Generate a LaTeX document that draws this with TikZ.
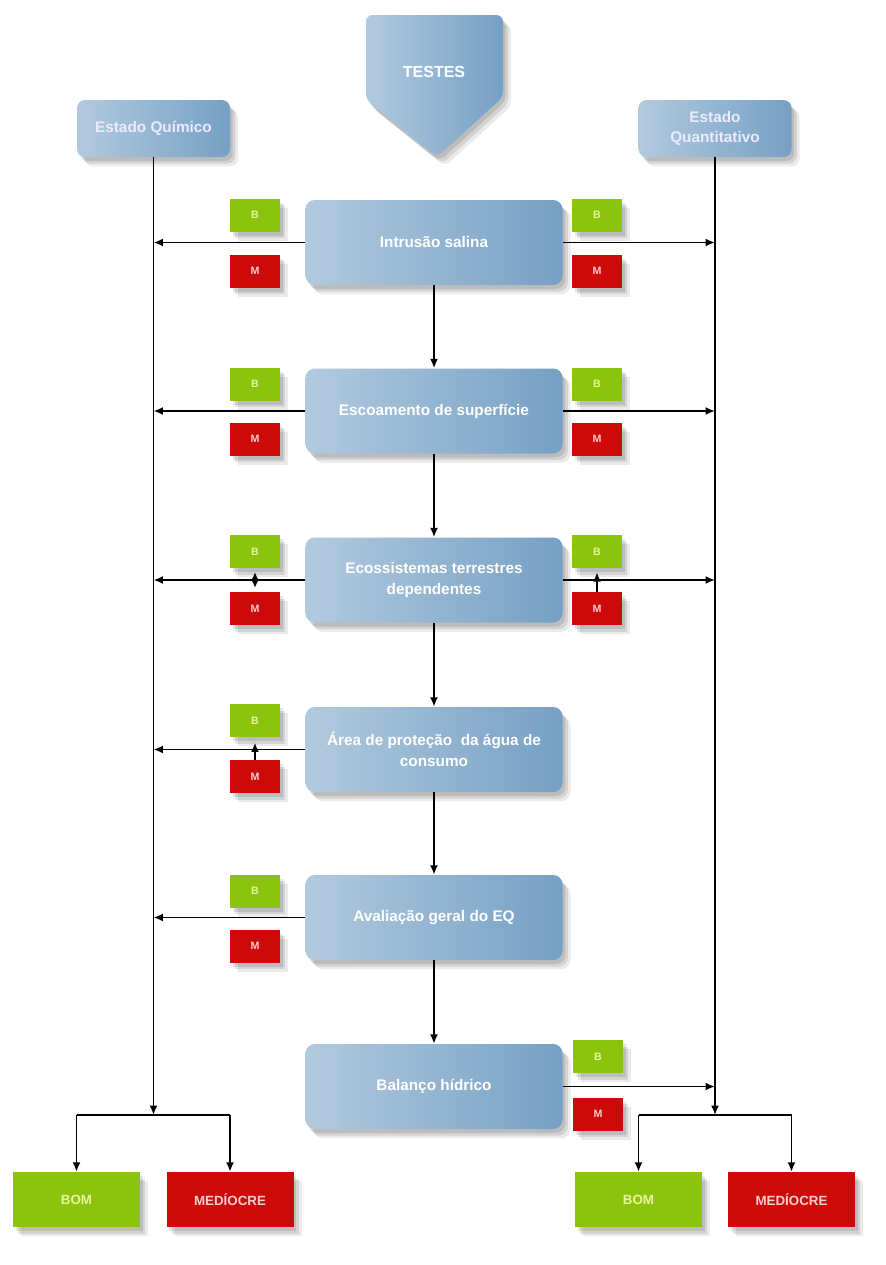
\documentclass[tikz,border=0pt]{standalone}
\usepackage{fontspec}
\setmainfont{Liberation Sans}
\usetikzlibrary{calc,shadows,arrows.meta}

\definecolor{boxL}{RGB}{178,202,222}
\definecolor{boxR}{RGB}{118,160,196}
\definecolor{okgreen}{RGB}{140,195,15}
\definecolor{badred}{RGB}{204,10,10}
\definecolor{oktext}{RGB}{232,245,160}
\definecolor{badtext}{RGB}{255,205,205}

\newcommand\pxu{0.75pt}

\begin{document}
\begin{tikzpicture}[x=0.75pt,y=-0.75pt,
  softshadow/.style={
    drop shadow={shadow xshift=2pt,shadow yshift=-3pt,opacity=0.10,fill=black},
    drop shadow={shadow xshift=4pt,shadow yshift=-5pt,opacity=0.10,fill=black},
    drop shadow={shadow xshift=6pt,shadow yshift=-7pt,opacity=0.08,fill=black}},
  bluefill/.style={left color=boxL,right color=boxR,draw=none,softshadow},
  mainbox/.style={bluefill,rounded corners=7pt,text=white,align=center,
    font=\bfseries\fontsize{11.5}{16}\selectfont,
    minimum width=257*\pxu,minimum height=85*\pxu,inner sep=2pt},
  statebox/.style={bluefill,rounded corners=6pt,text=white!92!blue,align=center,
    font=\bfseries\fontsize{11.5}{15}\selectfont,
    minimum width=153*\pxu,minimum height=57*\pxu,inner sep=1pt},
  okbox/.style={fill=okgreen,text=oktext,font=\bfseries\fontsize{8}{9}\selectfont,
    minimum width=50*\pxu,minimum height=33*\pxu,inner sep=0pt,softshadow},
  badbox/.style={okbox,fill=badred,text=badtext},
  okres/.style={okbox,font=\bfseries\fontsize{10}{12}\selectfont,
    minimum width=127*\pxu,minimum height=55*\pxu},
  badres/.style={okres,fill=badred,text=badtext},
  tip/.style={Latex[length=7pt,width=6pt]},
  arr/.style={draw=black,line width=1.4pt,-{Latex[length=7pt,width=6pt]}},
  ln/.style={draw=black,line width=1.4pt}
]
\fill[white] (0,0) rectangle (886,1265);
\useasboundingbox (0,0) rectangle (886,1265);

% top pentagon
\path[bluefill,rounded corners=5pt] (366,15) -- (503,15) -- (503,97) -- (437,157) -- (366,100) -- cycle;
\node[text=white,font=\bfseries\fontsize{12}{14}\selectfont] (testes) at (434,72) {TESTES};

% state headers
\node[statebox] (quim) at (153.5,128.5) {Estado Químico};
\node[statebox] (quant) at (715,128.5) {Estado\\Quantitativo};

% main test boxes
\node[mainbox] (t1) at (434,242.5) {Intrusão salina};
\node[mainbox] (t2) at (434,411) {Escoamento de superfície};
\node[mainbox] (t3) at (434,580) {Ecossistemas terrestres\\dependentes};
\node[mainbox] (t4) at (434,749.5) {Área de proteção\ \ da água de\\consumo};
\node[mainbox] (t5) at (434,917.5) {Avaliação geral do EQ};
\node[mainbox] (t6) at (434,1086.5) {Balanço hídrico};

% B / M markers
\node[okbox]  (bL1) at (255,215) {B};  \node[badbox] (mL1) at (255,271) {M};
\node[okbox]  (bR1) at (597,215) {B};  \node[badbox] (mR1) at (597,271) {M};
\node[okbox]  (bL2) at (255,384) {B};  \node[badbox] (mL2) at (255,439) {M};
\node[okbox]  (bR2) at (597,384) {B};  \node[badbox] (mR2) at (597,439) {M};
\node[okbox]  (bL3) at (255,551.5) {B}; \node[badbox] (mL3) at (255,608.5) {M};
\node[okbox]  (bR3) at (597,551.5) {B}; \node[badbox] (mR3) at (597,608.5) {M};
\node[okbox]  (bL4) at (255,720.5) {B}; \node[badbox] (mL4) at (255,776.5) {M};
\node[okbox]  (bL5) at (255,891) {B};  \node[badbox] (mL5) at (255,946) {M};
\node[okbox]  (bR6) at (598,1056.5) {B}; \node[badbox] (mR6) at (598,1114) {M};

% results
\node[okres]  (bomL) at (76.5,1199.5) {BOM};
\node[badres] (medL) at (230,1199.5) {MEDÍOCRE};
\node[okres]  (bomR) at (638.5,1199.5) {BOM};
\node[badres] (medR) at (791.5,1199.5) {MEDÍOCRE};

% junctions above the results
\coordinate (jL) at (153.5,1115);
\coordinate (jR) at (715,1115);

% vertical chain of tests
\draw[arr] (t1.south) -- (t2.north);
\draw[arr] (t2.south) -- (t3.north);
\draw[arr] (t3.south) -- (t4.north);
\draw[arr] (t4.south) -- (t5.north);
\draw[arr] (t5.south) -- (t6.north);

% collecting lines
\draw[arr] (quim.south) -- (jL);
\draw[arr] (quant.south) -- (jR);

% test outputs to the left
\foreach \t in {t1,t2,t3,t4,t5}
  \draw[arr] (\t.west) -- (\t.west -| jL);
% test outputs to the right
\foreach \t in {t1,t2,t3,t6}
  \draw[arr] (\t.east) -- (\t.east -| jR);

% small links between markers
\draw[ln,{Latex[length=6pt,width=6pt]}-{Latex[length=6pt,width=6pt]},shorten <=3pt,shorten >=3pt] (bL3.south) -- (mL3.north);
\draw[arr,shorten >=3pt] (mR3.north) -- (bR3.south);
\draw[arr,shorten >=4pt] (mL4.north) -- (bL4.south);

% split into the final classes
\draw[ln] (bomL.north |- jL) -- (medL.north |- jL);
\draw[arr] (bomL.north |- jL) -- (bomL.north);
\draw[arr] (medL.north |- jL) -- (medL.north);
\draw[ln] (bomR.north |- jR) -- (medR.north |- jR);
\draw[arr] (bomR.north |- jR) -- (bomR.north);
\draw[arr] (medR.north |- jR) -- (medR.north);
\end{tikzpicture}
\end{document}
